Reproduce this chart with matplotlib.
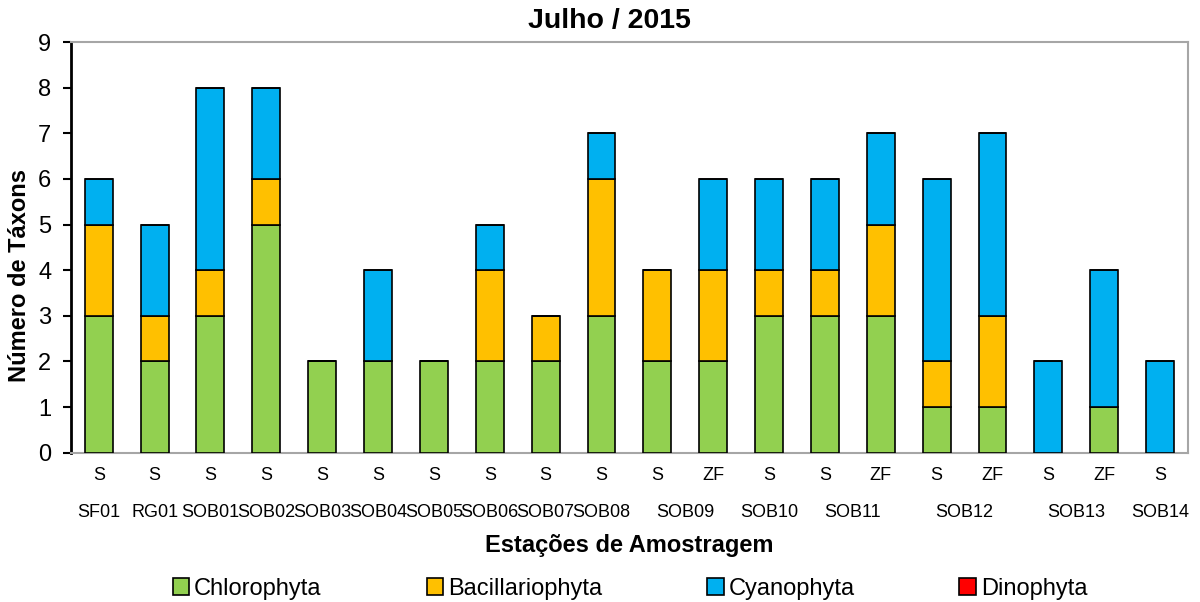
import matplotlib.pyplot as plt
import numpy as np

plt.rcParams['font.family'] = ['Liberation Sans', 'DejaVu Sans']

# sampling points: depth level and station
niveis = ['S', 'S', 'S', 'S', 'S', 'S', 'S', 'S', 'S', 'S',
          'S', 'ZF', 'S', 'S', 'ZF', 'S', 'ZF', 'S', 'ZF', 'S']
estacoes = ['SF01', 'RG01', 'SOB01', 'SOB02', 'SOB03', 'SOB04', 'SOB05',
            'SOB06', 'SOB07', 'SOB08', 'SOB09', 'SOB10', 'SOB11', 'SOB12',
            'SOB13', 'SOB14']
# number of bars under each station label
estacao_span = [1, 1, 1, 1, 1, 1, 1, 1, 1, 1, 2, 1, 2, 2, 2, 1]

chlorophyta = [3, 2, 3, 5, 2, 2, 2, 2, 2, 3, 2, 2, 3, 3, 3, 1, 1, 0, 1, 0]
bacillariophyta = [2, 1, 1, 1, 0, 0, 0, 2, 1, 3, 2, 2, 1, 1, 2, 1, 2, 0, 0, 0]
cyanophyta = [1, 2, 4, 2, 0, 2, 0, 1, 0, 1, 0, 2, 2, 2, 2, 4, 4, 2, 3, 2]
dinophyta = [0] * 20

grupos = [('Chlorophyta', chlorophyta, '#92D050'),
          ('Bacillariophyta', bacillariophyta, '#FFC000'),
          ('Cyanophyta', cyanophyta, '#00B0F0'),
          ('Dinophyta', dinophyta, '#FF0000')]

fig = plt.figure(figsize=(12, 6.02), dpi=100)
ax = fig.add_axes([0.059, 0.248, 0.931, 0.682])

x = np.arange(len(niveis))
base = np.zeros(len(niveis))
for nome, vals, cor in grupos:
    vals = np.array(vals, dtype=float)
    ax.bar(x, vals, 0.5, bottom=base, color=cor, edgecolor='black',
           linewidth=1.2, label=nome, zorder=3)
    base += vals

ax.set_xlim(-0.5, len(niveis) - 0.5)
ax.set_ylim(0, 9)
ax.set_yticks(range(10))
ax.tick_params(axis='y', labelsize=17, direction='out', length=6, width=1.5,
               pad=8)
ax.set_xticks([])

for s in ['top', 'right', 'bottom']:
    ax.spines[s].set_color('#A6A6A6')
    ax.spines[s].set_linewidth(1.5)
ax.spines['left'].set_color('black')
ax.spines['left'].set_linewidth(2)

# two-level category labels
for i, n in enumerate(niveis):
    ax.text(i, -0.5, n, ha='center', va='center', fontsize=13)
pos = 0
for est, span in zip(estacoes, estacao_span):
    ax.text(pos + (span - 1) / 2, -1.31, est, ha='center', va='center',
            fontsize=13)
    pos += span

fig.text(0.508, 0.965, 'Julho / 2015', ha='center', va='center',
         fontsize=20.5, fontweight='bold')
fig.text(0.016, 0.543, 'Número de Táxons', rotation=90, ha='center',
         va='center', fontsize=17, fontweight='bold')
fig.text(0.524, 0.094, 'Estações de Amostragem', ha='center', va='center',
         fontsize=17, fontweight='bold')

fig.legend(*ax.get_legend_handles_labels(), loc='center',
           bbox_to_anchor=(0.525, 0.022), ncol=4, frameon=False, fontsize=17,
           handlelength=0.7, handleheight=0.7, handletextpad=0.2,
           columnspacing=4.45, borderpad=0)

fig.savefig('out.png')
